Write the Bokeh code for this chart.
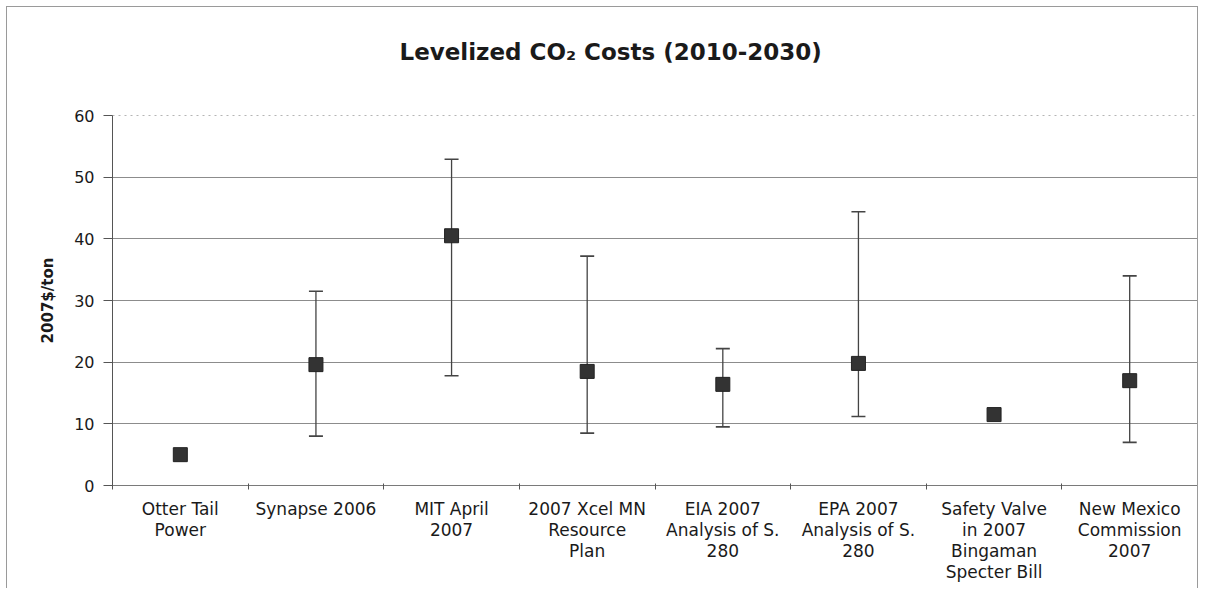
import numpy as np
from bokeh.plotting import figure
from bokeh.models import (ColumnDataSource, Range1d, FixedTicker, Whisker, TeeHead, Title)
from bokeh.embed import file_html
from bokeh.resources import INLINE

categories = ["Otter Tail\nPower", "Synapse 2006", "MIT April\n2007",
              "2007 Xcel MN\nResource\nPlan", "EIA 2007\nAnalysis of S.\n280",
              "EPA 2007\nAnalysis of S.\n280",
              "Safety Valve\nin 2007\nBingaman\nSpecter Bill",
              "New Mexico\nCommission\n2007"]
mid_values = [5.0, 19.6, 40.5, 18.5, 16.4, 19.8, 11.5, 17.0]
high_values = [np.nan, 31.5, 52.9, 37.2, 22.2, 44.4, np.nan, 34.0]
low_values = [np.nan, 8.0, 17.8, 8.5, 9.5, 11.2, np.nan, 7.0]
y_ticks = [0, 10, 20, 30, 40, 50, 60]

FONT = "DejaVu Sans"
n = len(categories)
xpos = np.arange(n) + 0.5

p = figure(width=1192, height=582, output_backend="svg", toolbar_location=None,
           x_range=Range1d(0, n), y_range=Range1d(0, 60),
           min_border_left=105, min_border_right=2, min_border_top=108,
           min_border_bottom=104,
           styles={"margin-left": "6px", "margin-top": "6px",
                   "border-top": "1px solid #9a9a9a", "border-left": "1px solid #9a9a9a",
                   "border-right": "1px solid #9a9a9a"})

# spacer between frame and title (keeps the title high above the plot area)
spacer = Title(text=" ", text_font_size="1px", standoff=43)
p.add_layout(spacer, "above")

title = Title(text="Levelized CO\u2082 Costs (2010-2030)", align="left", offset=287,
              text_font=FONT, text_font_size="23px", text_font_style="bold",
              text_color="#1a1a1a", standoff=10)
p.add_layout(title, "above")

p.background_fill_color = "white"
p.border_fill_color = "white"
p.outline_line_color = "#b5b5b5"
p.outline_line_dash = "dotted"
p.outline_line_width = 1

# grid
p.xgrid.grid_line_color = None
p.ygrid.ticker = FixedTicker(ticks=[10, 20, 30, 40, 50])
p.ygrid.grid_line_color = "#8c8c8c"
p.ygrid.grid_line_width = 1

# y axis
p.yaxis.ticker = FixedTicker(ticks=y_ticks)
p.yaxis.axis_line_color = "#555555"
p.yaxis.major_tick_line_color = "#555555"
p.yaxis.major_tick_out = 9
p.yaxis.major_tick_in = 0
p.yaxis.minor_tick_line_color = None
p.yaxis.major_label_text_font = FONT
p.yaxis.major_label_text_font_size = "16px"
p.yaxis.major_label_text_color = "#1a1a1a"
p.yaxis.major_label_standoff = 9
p.yaxis.axis_label = "2007$/ton"
p.yaxis.axis_label_text_font = FONT
p.yaxis.axis_label_text_font_size = "15px"
p.yaxis.axis_label_text_font_style = "bold"
p.yaxis.axis_label_text_color = "#1a1a1a"
p.yaxis.axis_label_standoff = 14

# x axis: labels at centers, tick marks at category boundaries
p.xaxis.ticker = FixedTicker(ticks=list(xpos), minor_ticks=list(range(n + 1)))
p.xaxis.major_label_overrides = {float(x): c for x, c in zip(xpos, categories)}
p.xaxis.axis_line_color = "#7a7a7a"
p.xaxis.major_tick_line_color = None
p.xaxis.minor_tick_line_color = "#555555"
p.xaxis.minor_tick_out = 4
p.xaxis.minor_tick_in = 2
p.xaxis.major_label_text_font = FONT
p.xaxis.major_label_text_font_size = "17px"
p.xaxis.major_label_text_line_height = 1.06
p.xaxis.major_label_text_color = "#1a1a1a"
p.xaxis.major_label_standoff = 7

# data
src = ColumnDataSource(dict(x=xpos, mid=mid_values, high=high_values, low=low_values))
err_mask = [not np.isnan(h) for h in high_values]
err_src = ColumnDataSource(dict(x=xpos[err_mask],
                                high=[h for h, m in zip(high_values, err_mask) if m],
                                low=[l for l, m in zip(low_values, err_mask) if m]))

w = Whisker(source=err_src, base="x", upper="high", lower="low", dimension="height",
            line_color="#444444", line_width=1.3,
            upper_head=TeeHead(size=14, line_color="#444444", line_width=1.6),
            lower_head=TeeHead(size=14, line_color="#444444", line_width=1.6))
p.add_layout(w)

p.scatter("x", "mid", source=src, marker="square", size=14,
          fill_color="#333333", line_color="#222222", line_width=1)

open("out.html", "w").write(file_html(p, INLINE))
